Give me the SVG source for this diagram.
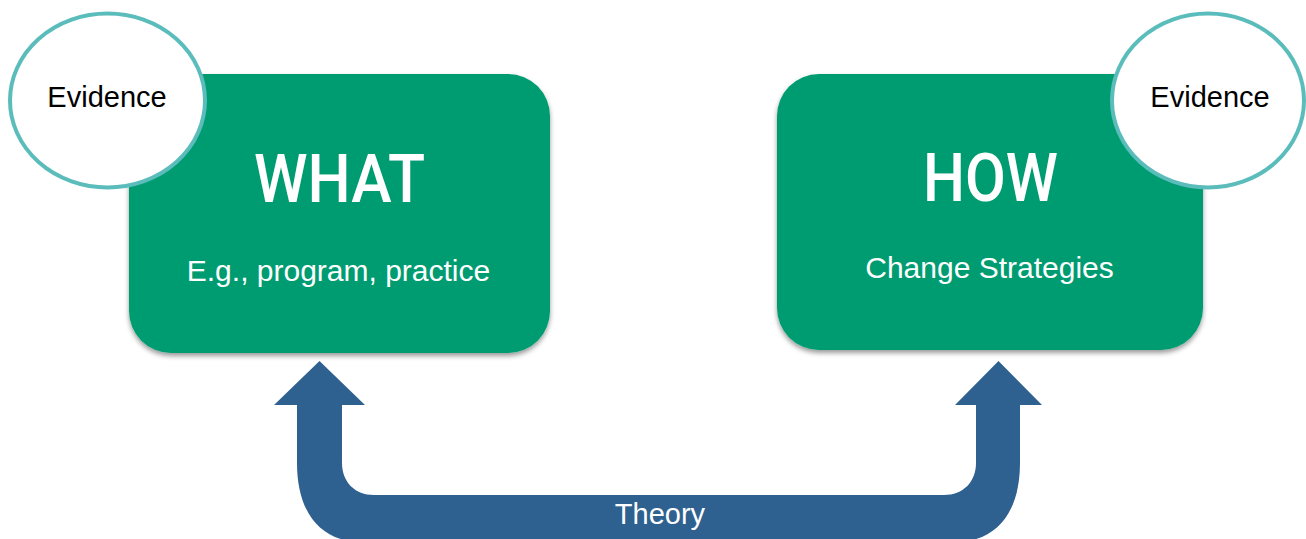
<svg xmlns="http://www.w3.org/2000/svg" width="1306" height="539" viewBox="0 0 1306 539">
  <defs>
    <filter id="shadow" x="-10%" y="-10%" width="120%" height="125%">
      <feDropShadow dx="0" dy="3" stdDeviation="2.5" flood-color="#000" flood-opacity="0.4"/>
    </filter>
    <style>
      .box { fill: #029c71; filter: url(#shadow); }
      .ev { fill: #ffffff; stroke: #5bbdbb; stroke-width: 4; }
      .evt { font-family: "Liberation Sans", Arial, sans-serif; font-size: 29px; fill: #000; text-anchor: middle; }
      .title { font-family: Roboto, "Liberation Sans", sans-serif; font-weight: 500; font-size: 67px; fill: #fff; text-anchor: middle; }
      .sub { font-family: "Liberation Sans", Arial, sans-serif; font-size: 30px; fill: #fff; text-anchor: middle; }
      .arrow { fill: #2e6190; }
      .lbl { font-family: "Liberation Sans", Arial, sans-serif; font-size: 29px; fill: #fff; text-anchor: middle; }
    </style>
  </defs>

  <g id="connectors">
    <path class="arrow" d="M 274 405 L 319.5 361 L 365 405 L 342 405 L 342 463 C 342 482 355 495 374 495 L 944 495 C 963 495 976 482 976 463 L 976 405 L 955 405 L 998.5 361 L 1042 405 L 1020 405 L 1020 463 C 1020 512 997 542 955 542 L 362 542 C 320 542 297 512 297 463 L 297 405 Z"/>
    <text class="lbl" x="660" y="524">Theory</text>
  </g>

  <g id="what">
    <rect class="box" x="129" y="74" width="421" height="279" rx="42" ry="42"/>
    <text class="title" x="339.5" y="202" textLength="171" lengthAdjust="spacingAndGlyphs">WHAT</text>
    <text class="sub" x="338.5" y="281">E.g., program, practice</text>
  </g>

  <g id="how">
    <rect class="box" x="777" y="74" width="426" height="276" rx="42" ry="42"/>
    <text class="title" x="990.5" y="201" textLength="135" lengthAdjust="spacingAndGlyphs">HOW</text>
    <text class="sub" x="989.5" y="278">Change Strategies</text>
  </g>

  <g id="evidence-left">
    <ellipse class="ev" cx="107.5" cy="100.5" rx="97.5" ry="87"/>
    <text class="evt" x="107" y="107">Evidence</text>
  </g>

  <g id="evidence-right">
    <ellipse class="ev" cx="1208" cy="100.5" rx="96" ry="87"/>
    <text class="evt" x="1210" y="107">Evidence</text>
  </g>
</svg>
